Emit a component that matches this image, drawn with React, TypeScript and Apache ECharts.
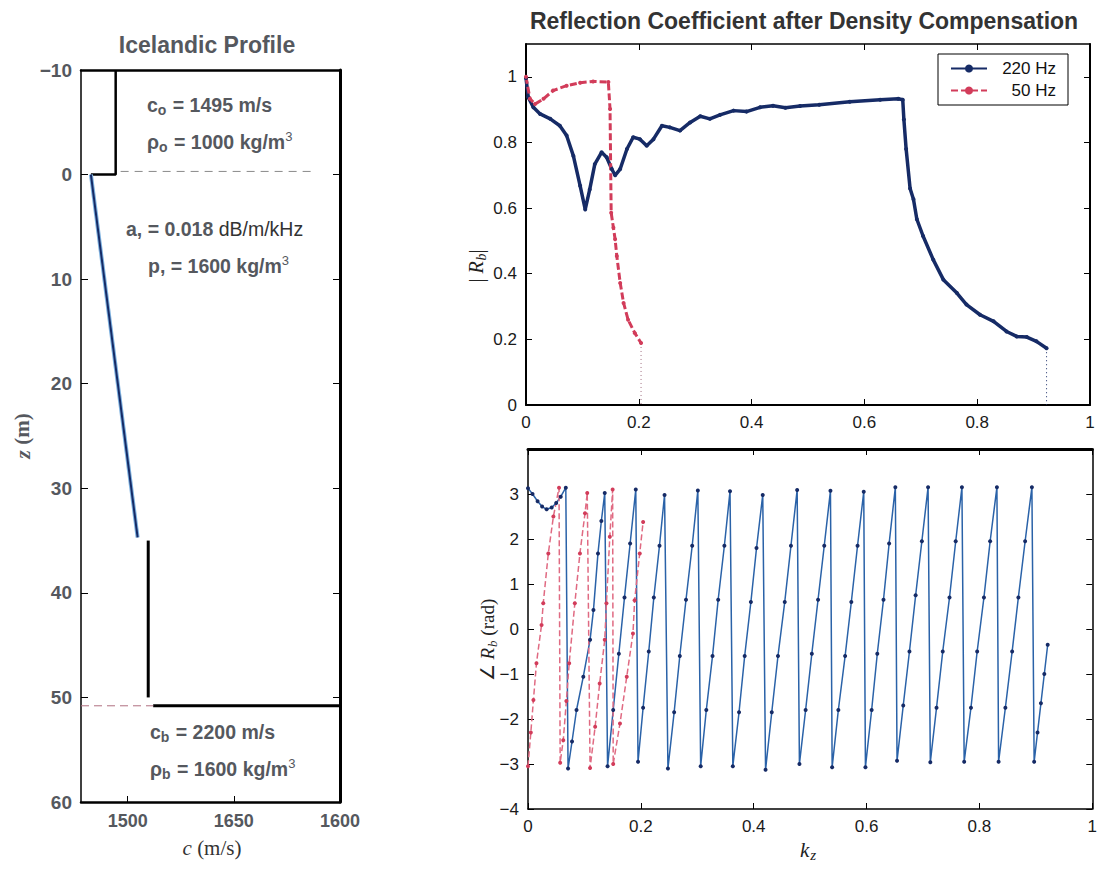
import { useEffect, useRef } from "react";
import * as echarts from "echarts";

// ---------- Left panel: Icelandic profile (c in m/s vs depth z in m)
const cTicks = [1500, 1650, 1800];
const cTickLabels = ["1500", "1650", "1600"];
const zTicks = [-10, 0, 10, 20, 30, 40, 50, 60];
const waterColumn = [[1483, -10], [1483, 0], [1448, 0]];
const sedimentGradient = [[1448, 0], [1514, 34.7]];
const sedimentStep = [[1529, 35], [1529, 50]];
const basementTop = [[1536, 50.8], [1800, 50.8]];
const basementLeft = [[1434, 50.8], [1536, 50.8]];
const seafloorLine = [[1490, -0.3], [1765, -0.3]];

// ---------- Right panels: k_z axis
const kTicks = [0, 0.2, 0.4, 0.6, 0.8, 1];
const magTicks = [0, 0.2, 0.4, 0.6, 0.8, 1];
const phaseTicks = [-4, -3, -2, -1, 0, 1, 2, 3, 4];
const phaseLabelTicks = [-4, -3, -2, -1, 0, 1, 2, 3];

// |R_b| at 220 Hz
const mag220 = [
  [0, 0.996], [0.004, 0.938], [0.013, 0.907], [0.025, 0.887], [0.043, 0.872],
  [0.06, 0.851], [0.072, 0.821], [0.084, 0.759], [0.096, 0.668], [0.105, 0.596],
  [0.113, 0.657], [0.122, 0.734], [0.134, 0.77], [0.143, 0.755], [0.152, 0.719],
  [0.158, 0.7], [0.167, 0.719], [0.179, 0.78], [0.19, 0.816], [0.202, 0.81],
  [0.214, 0.79], [0.226, 0.81], [0.241, 0.851], [0.255, 0.846], [0.273, 0.836],
  [0.291, 0.861], [0.309, 0.88], [0.326, 0.872], [0.344, 0.884], [0.368, 0.897],
  [0.391, 0.894], [0.415, 0.907], [0.438, 0.912], [0.46, 0.906], [0.486, 0.911],
  [0.52, 0.915], [0.574, 0.924], [0.628, 0.93], [0.66, 0.933], [0.668, 0.93],
  [0.67, 0.87], [0.674, 0.78], [0.681, 0.66], [0.687, 0.627], [0.693, 0.566],
  [0.704, 0.515], [0.722, 0.443], [0.74, 0.382], [0.764, 0.341], [0.781, 0.306],
  [0.805, 0.275], [0.829, 0.255], [0.852, 0.224], [0.87, 0.209], [0.888, 0.207],
  [0.905, 0.194], [0.923, 0.173],
];
// |R_b| at 50 Hz
const mag50 = [
  [0, 1.0], [0.007, 0.933], [0.016, 0.917], [0.031, 0.933], [0.048, 0.958],
  [0.072, 0.973], [0.096, 0.982], [0.119, 0.986], [0.146, 0.984], [0.149, 0.902],
  [0.151, 0.586], [0.155, 0.54], [0.158, 0.505], [0.161, 0.454], [0.167, 0.372],
  [0.173, 0.311], [0.181, 0.26], [0.193, 0.219], [0.204, 0.189],
];
const mag220Tail = [[0.923, 0.173], [0.923, 0]];
const mag50Tail = [[0.204, 0.189], [0.204, 0]];

// phase of R_b (rad) at 220 Hz
const phase220 = [
  [0, 3.13], [0.008, 3.0], [0.017, 2.84], [0.025, 2.72], [0.033, 2.66], [0.042, 2.7],
  [0.05, 2.8], [0.058, 2.94], [0.067, 3.14],
  [0.071, -3.1], [0.078, -2.5], [0.086, -1.8], [0.098, -1.06], [0.11, -0.24],
  [0.116, 0.42], [0.124, 1.68], [0.13, 2.4], [0.136, 3.02],
  [0.141, -3.05], [0.151, -1.8], [0.161, -0.55], [0.171, 0.7], [0.181, 1.9], [0.191, 3.1],
  [0.195, -2.95], [0.204, -1.75], [0.214, -0.5], [0.223, 0.7], [0.233, 1.85], [0.242, 2.98],
  [0.248, -3.1], [0.259, -1.85], [0.269, -0.6], [0.28, 0.65], [0.291, 1.85], [0.301, 3.08],
  [0.306, -3.05], [0.316, -1.8], [0.327, -0.6], [0.337, 0.65], [0.348, 1.85], [0.358, 3.06],
  [0.363, -3.05], [0.374, -1.85], [0.384, -0.6], [0.395, 0.6], [0.405, 1.8], [0.416, 2.98],
  [0.421, -3.13], [0.432, -1.85], [0.443, -0.6], [0.455, 0.6], [0.466, 1.85], [0.477, 3.09],
  [0.481, -3.0], [0.492, -1.8], [0.503, -0.55], [0.514, 0.65], [0.525, 1.85], [0.536, 3.07],
  [0.539, -3.07], [0.55, -1.8], [0.562, -0.6], [0.573, 0.6], [0.584, 1.85], [0.595, 3.05],
  [0.598, -3.07], [0.609, -1.8], [0.619, -0.55], [0.63, 0.65], [0.64, 1.9], [0.651, 3.15],
  [0.654, -2.93], [0.665, -1.7], [0.676, -0.5], [0.687, 0.75], [0.698, 1.95], [0.709, 3.15],
  [0.713, -2.96], [0.724, -1.75], [0.735, -0.5], [0.747, 0.7], [0.758, 1.95], [0.769, 3.15],
  [0.773, -2.95], [0.785, -1.75], [0.796, -0.5], [0.808, 0.7], [0.819, 1.95], [0.831, 3.15],
  [0.834, -2.95], [0.846, -1.75], [0.858, -0.5], [0.869, 0.7], [0.881, 1.95], [0.893, 3.15],
  [0.897, -2.95], [0.903, -2.3], [0.909, -1.65], [0.915, -1.0], [0.921, -0.35],
];
// phase of R_b (rad) at 50 Hz
const phase50 = [
  [0, -3.05], [0.005, -2.3], [0.0096, -1.58], [0.015, -0.76], [0.024, 0.09], [0.027, 0.57],
  [0.036, 1.68], [0.045, 2.5], [0.055, 3.14],
  [0.057, -2.97], [0.0625, -2.47], [0.068, -1.6], [0.073, -0.76], [0.083, 0.57],
  [0.092, 1.68], [0.101, 2.57], [0.105, 3.02],
  [0.11, -3.09], [0.119, -2.17], [0.127, -1.21], [0.136, -0.24], [0.139, 0.57],
  [0.145, 2.05], [0.15, 3.1],
  [0.151, -3.0], [0.163, -2.1], [0.175, -1.06], [0.186, -0.1], [0.189, 0.64],
  [0.198, 1.68], [0.204, 2.38],
];

const SANS = "'Liberation Sans', Arial, Helvetica, sans-serif";
const SERIF = "'Liberation Serif', 'Times New Roman', serif";
const GRAY = "#55585e";
const NAVY = "#162b66";
const BLUE_LINE = "#2a62a8";
const RED = "#d23c5a";
const RED_LINE = "#e06a82";

const minus = (v: number) => (v < 0 ? "\u2212" + Math.abs(v) : String(v));

function leftRich() {
  return {
    b: { fontFamily: SANS, fontSize: 19.5, fontWeight: "bold", fill: GRAY, lineHeight: 24, verticalAlign: "middle" },
    d: { fontFamily: SANS, fontSize: 19.5, fill: "#333", lineHeight: 24, verticalAlign: "middle" },
    s: { fontFamily: SANS, fontSize: 14, fontWeight: "bold", fill: GRAY, lineHeight: 14, padding: [10, 1, 0, 0], verticalAlign: "middle" },
    p: { fontFamily: SANS, fontSize: 13, fill: GRAY, lineHeight: 13, padding: [0, 0, 11, 0], verticalAlign: "middle" },
  };
}

function serifRich(size: number, color: string) {
  return {
    i: { fontFamily: SERIF, fontStyle: "italic", fontSize: size, fill: color, lineHeight: size + 4, verticalAlign: "middle" },
    n: { fontFamily: SERIF, fontSize: size, fill: color, lineHeight: size + 4, verticalAlign: "middle" },
    s: { fontFamily: SERIF, fontStyle: "italic", fontSize: size - 6, fill: color, lineHeight: size - 6, padding: [10, 0, 0, 1], verticalAlign: "middle" },
  };
}

function txt(x: number, y: number, text: string, rich: any, rotation = 0, align = "left") {
  return {
    type: "text",
    x,
    y,
    rotation,
    silent: true,
    style: { text, rich, textAlign: align, textVerticalAlign: "middle" },
  };
}

function buildOption() {
  const rightLabel = { fontFamily: SANS, fontSize: 17, color: "#1a1a1a", margin: 9 };
  const tickIn = (len: number, vals: number[]) => ({
    show: true,
    inside: true,
    length: len,
    customValues: vals,
    lineStyle: { color: "#000", width: 1 },
  });
  const noLabel = { show: false };
  const line = (w: number) => ({ onZero: false, lineStyle: { color: "#000", width: w } });

  return {
    animation: false,
    backgroundColor: "#fff",
    grid: [
      { left: 81, top: 70, width: 259, height: 732 },
      { left: 526, top: 44, width: 564, height: 361 },
      { left: 528, top: 449, width: 565, height: 360 },
    ],
    xAxis: [
      {
        gridIndex: 0, type: "value", position: "bottom", min: 1434, max: 1800,
        axisLine: line(2.5),
        axisTick: tickIn(6, cTicks),
        axisLabel: {
          customValues: cTicks,
          formatter: (v: number) => cTickLabels[cTicks.indexOf(v)] ?? String(v),
          fontFamily: SANS, fontSize: 18, fontWeight: "bold", color: GRAY, margin: 10,
        },
        splitLine: { show: false },
      },
      {
        gridIndex: 0, type: "value", position: "top", min: 1434, max: 1800,
        axisLine: line(2.5),
        axisTick: { show: false }, axisLabel: noLabel, splitLine: { show: false },
      },
      {
        gridIndex: 1, type: "value", position: "bottom", min: 0, max: 1,
        axisLine: line(2),
        axisTick: tickIn(6, kTicks),
        axisLabel: { ...rightLabel, customValues: kTicks, formatter: (v: number) => String(v) },
        splitLine: { show: false },
      },
      {
        gridIndex: 1, type: "value", position: "top", min: 0, max: 1,
        axisLine: line(1.5),
        axisTick: tickIn(6, kTicks), axisLabel: noLabel, splitLine: { show: false },
      },
      {
        gridIndex: 2, type: "value", position: "bottom", min: 0, max: 1,
        axisLine: line(1.5),
        axisTick: tickIn(6, kTicks),
        axisLabel: { ...rightLabel, customValues: kTicks, formatter: (v: number) => String(v) },
        splitLine: { show: false },
      },
      {
        gridIndex: 2, type: "value", position: "top", min: 0, max: 1,
        axisLine: line(3),
        axisTick: tickIn(6, kTicks), axisLabel: noLabel, splitLine: { show: false },
      },
    ],
    yAxis: [
      {
        gridIndex: 0, type: "value", position: "left", min: -10, max: 60, interval: 10, inverse: true,
        axisLine: line(1.5),
        axisTick: tickIn(7, zTicks),
        axisLabel: { customValues: zTicks, formatter: minus, fontFamily: SANS, fontSize: 19, fontWeight: "bold", color: GRAY, margin: 9 },
        splitLine: { show: false },
      },
      {
        gridIndex: 0, type: "value", position: "right", min: -10, max: 60, interval: 10, inverse: true,
        axisLine: line(3),
        axisTick: tickIn(7, zTicks), axisLabel: noLabel, splitLine: { show: false },
      },
      {
        gridIndex: 1, type: "value", position: "left", min: 0, max: 1.1,
        axisLine: line(2),
        axisTick: tickIn(6, magTicks),
        axisLabel: { ...rightLabel, customValues: magTicks, formatter: (v: number) => String(v) },
        splitLine: { show: false },
      },
      {
        gridIndex: 1, type: "value", position: "right", min: 0, max: 1.1,
        axisLine: line(2),
        axisTick: tickIn(6, magTicks), axisLabel: noLabel, splitLine: { show: false },
      },
      {
        gridIndex: 2, type: "value", position: "left", min: -4, max: 4, interval: 1,
        axisLine: line(1.5),
        axisTick: tickIn(6, phaseTicks),
        axisLabel: { ...rightLabel, customValues: phaseLabelTicks, formatter: minus },
        splitLine: { show: false },
      },
      {
        gridIndex: 2, type: "value", position: "right", min: -4, max: 4, interval: 1,
        axisLine: line(1.5),
        axisTick: tickIn(6, phaseTicks), axisLabel: noLabel, splitLine: { show: false },
      },
    ],
    legend: {
      data: ["220 Hz", "50 Hz"],
      left: 938,
      top: 54,
      orient: "vertical",
      selectedMode: false,
      backgroundColor: "#fff",
      borderColor: "#000",
      borderWidth: 1,
      borderRadius: 0,
      padding: [6, 12, 6, 12],
      itemWidth: 36,
      itemHeight: 10,
      itemGap: 5,
      formatter: (name: string) => `{a|${name}}`,
      textStyle: {
        rich: { a: { width: 64, align: "right", fontFamily: SANS, fontSize: 17, color: "#111" } },
      },
    },
    series: [
      // profile
      {
        type: "line", xAxisIndex: 0, yAxisIndex: 0, data: seafloorLine, symbol: "none", silent: true,
        lineStyle: { color: "#8a8a8a", width: 1, type: [8, 6] },
      },
      {
        type: "line", xAxisIndex: 0, yAxisIndex: 0, data: waterColumn, symbol: "none", silent: true,
        lineStyle: { color: "#000", width: 2.5 },
      },
      {
        type: "line", xAxisIndex: 0, yAxisIndex: 0, data: sedimentGradient, symbol: "none", silent: true,
        lineStyle: { color: "#7fb2e0", width: 4 },
      },
      {
        type: "line", xAxisIndex: 0, yAxisIndex: 0, data: sedimentGradient, symbol: "none", silent: true,
        lineStyle: { color: NAVY, width: 2 },
      },
      {
        type: "line", xAxisIndex: 0, yAxisIndex: 0, data: sedimentStep, symbol: "none", silent: true,
        lineStyle: { color: "#000", width: 3 },
      },
      {
        type: "line", xAxisIndex: 0, yAxisIndex: 0, data: basementTop, symbol: "none", silent: true,
        lineStyle: { color: "#000", width: 3 },
      },
      {
        type: "line", xAxisIndex: 0, yAxisIndex: 0, data: basementLeft, symbol: "none", silent: true,
        lineStyle: { color: "#b07080", width: 1, type: [8, 5] },
      },
      // magnitude
      {
        name: "220 Hz", type: "line", xAxisIndex: 2, yAxisIndex: 2, data: mag220,
        symbol: "circle", symbolSize: 4, showAllSymbol: true,
        lineStyle: { color: NAVY, width: 3.5 }, itemStyle: { color: NAVY },
      },
      {
        name: "50 Hz", type: "line", xAxisIndex: 2, yAxisIndex: 2, data: mag50,
        symbol: "circle", symbolSize: 4, showAllSymbol: true,
        lineStyle: { color: RED, width: 3, type: [7, 3] }, itemStyle: { color: RED },
      },
      {
        type: "line", xAxisIndex: 2, yAxisIndex: 2, data: mag220Tail, symbol: "none", silent: true,
        lineStyle: { color: NAVY, width: 1, type: [1, 3] },
      },
      {
        type: "line", xAxisIndex: 2, yAxisIndex: 2, data: mag50Tail, symbol: "none", silent: true,
        lineStyle: { color: "#a07080", width: 1, type: [1, 3] },
      },
      // phase
      {
        name: "220 Hz", type: "line", xAxisIndex: 4, yAxisIndex: 4, data: phase220,
        symbol: "circle", symbolSize: 4, showAllSymbol: true,
        lineStyle: { color: BLUE_LINE, width: 1.5 }, itemStyle: { color: NAVY },
      },
      {
        name: "50 Hz", type: "line", xAxisIndex: 4, yAxisIndex: 4, data: phase50,
        symbol: "circle", symbolSize: 4, showAllSymbol: true,
        lineStyle: { color: RED_LINE, width: 1.5, type: [6, 3] }, itemStyle: { color: RED },
      },
    ],
    graphic: [
      // titles
      {
        type: "text", x: 207, y: 45, silent: true,
        style: { text: "Icelandic Profile", fontFamily: SANS, fontSize: 23, fontWeight: "bold", fill: GRAY, textAlign: "center", textVerticalAlign: "middle" },
      },
      {
        type: "text", x: 804, y: 21, silent: true,
        style: { text: "Reflection Coefficient after Density Compensation", fontFamily: SANS, fontSize: 23, fontWeight: "bold", fill: "#333", textAlign: "center", textVerticalAlign: "middle" },
      },
      // left annotations
      txt(147, 105, "{b|c}{s|o}{b| = 1495 m/s}", leftRich()),
      txt(147, 142, "{b|\u03c1}{s|o}{b| = 1000 kg/m}{p|3}", leftRich()),
      txt(126, 229, "{b|a, = 0.018 }{d|dB/m/kHz}", leftRich()),
      txt(148, 266, "{b|p, = 1600 kg/m}{p|3}", leftRich()),
      txt(150, 732, "{b|c}{s|b}{b| = 2200 m/s}", leftRich()),
      txt(150, 769, "{b|\u03c1}{s|b}{b| = 1600 kg/m}{p|3}", leftRich()),
      // axis names
      txt(22, 436, "{i|z}{n| (m)}", {
        i: { fontFamily: SERIF, fontStyle: "italic", fontWeight: "bold", fontSize: 22, fill: GRAY, verticalAlign: "middle" },
        n: { fontFamily: SERIF, fontWeight: "bold", fontSize: 21, fill: GRAY, verticalAlign: "middle" },
      }, Math.PI / 2, "center"),
      txt(212, 848, "{i|c}{n| (m/s)}", serifRich(21, "#333"), 0, "center"),
      txt(476, 266, "{n|| }{i|R}{s|b}{n||}", serifRich(20, "#222"), Math.PI / 2, "center"),
      txt(487, 640, "{n|\u2220 }{i|R}{s|b}{n| (rad)}", serifRich(19, "#222"), Math.PI / 2, "center"),
      txt(808, 850, "{i|k}{s|z}", serifRich(21, "#222"), 0, "center"),
    ],
  };
}

export default function App() {
  const ref = useRef<HTMLDivElement>(null);
  useEffect(() => {
    document.body.style.margin = "0";
    const chart = echarts.init(ref.current!, null, { renderer: "svg" });
    chart.setOption(buildOption() as any);
    return () => chart.dispose();
  }, []);
  return <div ref={ref} style={{ width: 1100, height: 870, background: "#fff" }} />;
}
